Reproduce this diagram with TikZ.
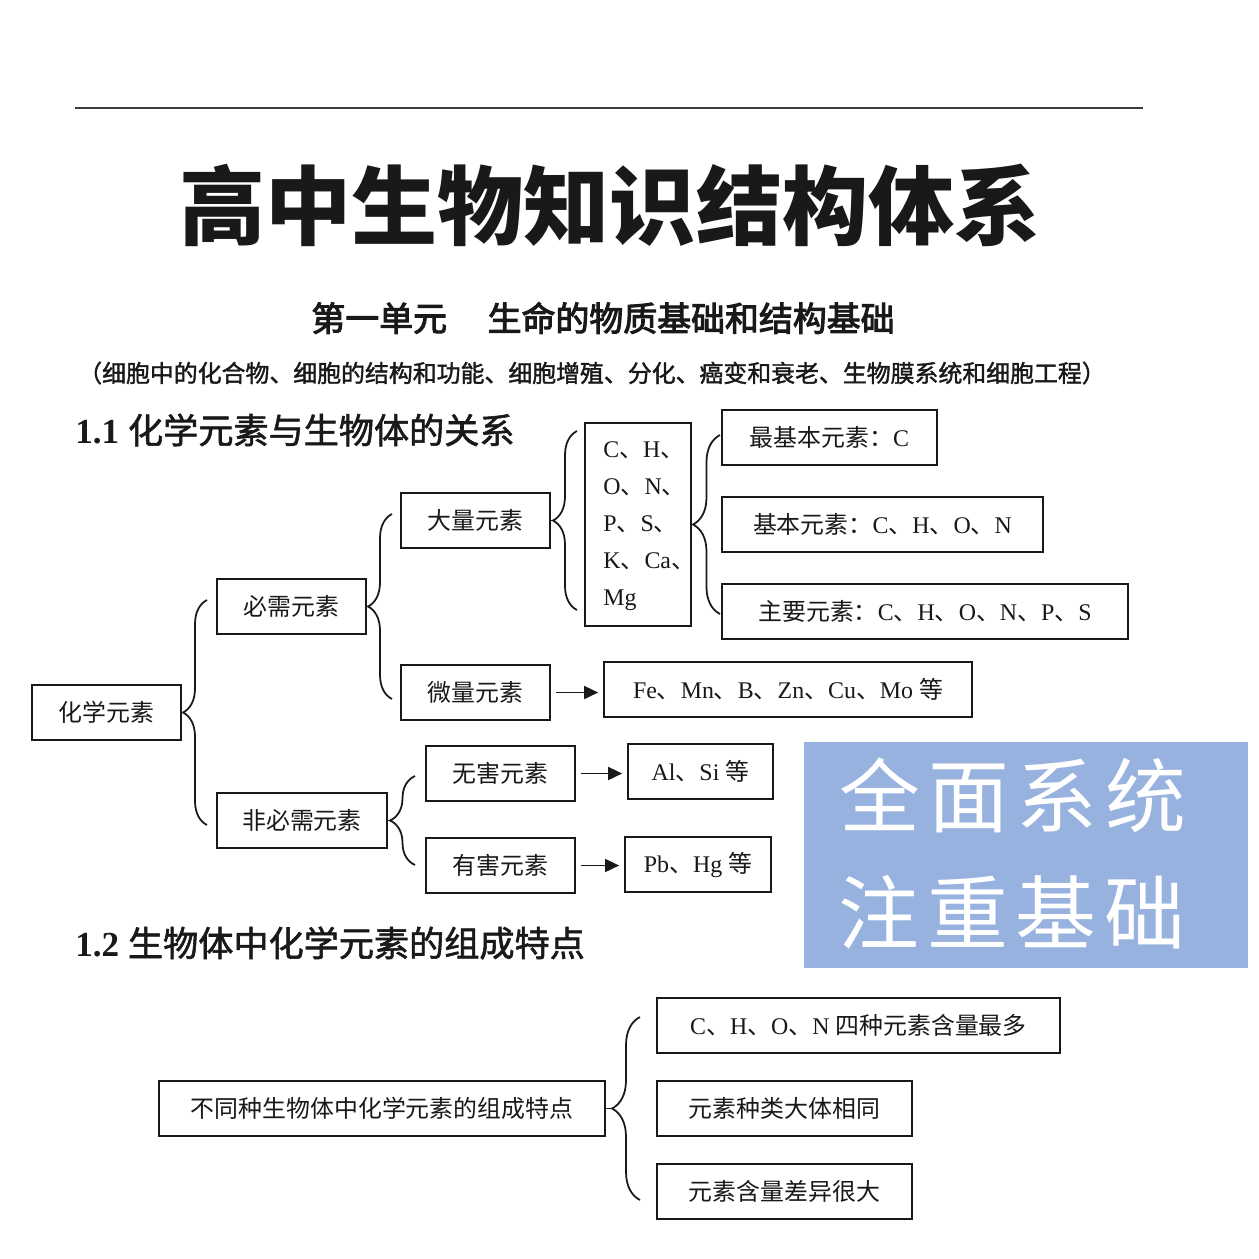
\documentclass[tikz,border=0pt]{standalone}
\usepackage{fontspec}
\setmainfont{Liberation Serif}
\newfontfamily\cj{Noto Sans CJK SC}
\newfontfamily\cjf[FakeBold=3]{Noto Sans CJK SC}
\newfontfamily\cjh[FakeBold=1.6]{Noto Sans CJK SC}
\usetikzlibrary{arrows.meta,decorations.pathreplacing}
\definecolor{wm}{RGB}{152,178,224}
\definecolor{ink}{RGB}{25,25,25}
\definecolor{rulec}{RGB}{60,60,60}
\newcommand\dn{{\cj 、}}
\begin{document}
\begin{tikzpicture}[x=0.02cm,y=-0.02cm,
  bx/.style={draw=ink, line width=1pt, inner sep=0pt, minimum height=1.1cm,
    font=\fontsize{13.6}{16}\selectfont, text=ink},
  brc/.style={decorate, decoration={brace, amplitude=#1}, line width=1pt, draw=ink},
  lnk/.style={line width=1pt, draw=ink},
  arr/.style={-{Triangle[length=0.28cm,width=0.26cm]}, line width=1pt, draw=ink,
    shorten <=0.1cm, shorten >=0.1cm},
  wmtxt/.style={text=white, inner sep=0pt, font=\fontsize{46}{50}\selectfont\cj}
]
\useasboundingbox (0,0) rectangle (1259,1259);
\fill[white] (0,0) rectangle (1259,1259);

% header
\draw[line width=1.4pt, rulec] (75,108) -- (1143,108);
\node[text=ink] (title) at (610,205) {\fontsize{49}{52}\selectfont\cj\bfseries 高中生物知识结构体系};
\node[text=ink] (sub) at (603,318) {\fontsize{19.3}{22}\selectfont\cjf 第一单元\hspace{1.2em}生命的物质基础和结构基础};
\node[text=ink] (par) at (592,373) {\fontsize{13.6}{16}\selectfont\cjh （细胞中的化合物、细胞的结构和功能、细胞增殖、分化、癌变和衰老、生物膜系统和细胞工程）};
\node[anchor=west, inner sep=0pt, text=ink] (h11) at (75,430) {\fontsize{20}{24}\selectfont{\bfseries 1.1} {\cjh 化学元素与生物体的关系}};
\node[anchor=west, inner sep=0pt, text=ink] (h12) at (75,943) {\fontsize{20}{24}\selectfont{\bfseries 1.2} {\cjh 生物体中化学元素的组成特点}};

% section 1.1 boxes
\node[bx, minimum width=2.98cm] (hx) at (106.5,712.5) {\cj 化学元素};
\node[bx, minimum width=2.98cm] (bxn) at (291.5,606.5) {\cj 必需元素};
\node[bx, minimum width=3.40cm] (fb) at (302,820.5) {\cj 非必需元素};
\node[bx, minimum width=2.98cm] (dl) at (475.5,520.5) {\cj 大量元素};
\node[bx, minimum width=2.98cm] (wl) at (475.5,692.5) {\cj 微量元素};
\node[bx, minimum width=2.12cm, minimum height=4.06cm] (ch) at (638,524.5) {};
\node[anchor=west, align=left, inner sep=0pt, text=ink, font=\fontsize{13.6}{21}\selectfont] (chtext) at (603,526) {C\dn H\dn\\O\dn N\dn\\P\dn S\dn\\K\dn Ca\dn\\Mg};
\node[bx, minimum width=4.30cm] (z1) at (829.5,437.5) {{\cj 最基本元素：}C};
\node[bx, minimum width=6.42cm] (z2) at (882.5,524.5) {{\cj 基本元素：}C\dn H\dn O\dn N};
\node[bx, minimum width=8.12cm] (z3) at (925,611.5) {{\cj 主要元素：}C\dn H\dn O\dn N\dn P\dn S};
\node[bx, minimum width=7.36cm] (fe) at (788,689.5) {Fe\dn Mn\dn B\dn Zn\dn Cu\dn Mo {\cj 等}};
\node[bx, minimum width=2.98cm] (wh) at (500.5,773.5) {\cj 无害元素};
\node[bx, minimum width=2.98cm] (yh) at (500.5,865.5) {\cj 有害元素};
\node[bx, minimum width=2.90cm] (al) at (700.5,771.5) {Al\dn Si {\cj 等}};
\node[bx, minimum width=2.92cm] (pb) at (698,864.5) {Pb\dn Hg {\cj 等}};

% braces 1.1
\coordinate (t1) at (183,712.5);
\draw[brc=0.48cm] (207,825) -- (207,600);
\draw[lnk] (hx.east) -- (t1);
\coordinate (t2) at (368,606.5);
\draw[brc=0.48cm] (392,699) -- (392,514);
\draw[lnk] (bxn.east) -- (t2);
\coordinate (t3) at (390,820.5);
\draw[brc=0.5cm] (415,865) -- (415,776);
\draw[lnk] (fb.east) -- (t3);
\coordinate (t4) at (553,520.5);
\draw[brc=0.48cm] (577,610) -- (577,431);
\draw[lnk] (dl.east) -- (t4);
\coordinate (t5) at (693,524.5);
\draw[brc=0.54cm] (720,614) -- (720,435);
\draw[lnk] (ch.east) -- (t5);

% arrows
\draw[arr] (wl.east) -- (wl.east -| fe.west);
\draw[arr] (wh.east) -- (wh.east -| al.west);
\draw[arr] (yh.east) -- (yh.east -| pb.west);

% watermark
\node[fill=wm, minimum width=8.88cm, minimum height=4.52cm, inner sep=0pt] (wmbox) at (1026,855) {};
\node[wmtxt] (wm1) at (1013,795) {全\hspace{0.16cm}面\hspace{0.16cm}系\hspace{0.16cm}统};
\node[wmtxt] (wm2) at (1012,912) {注\hspace{0.16cm}重\hspace{0.16cm}基\hspace{0.16cm}础};

% section 1.2
\node[bx, minimum width=8.92cm] (bt) at (382,1108.5) {\cj 不同种生物体中化学元素的组成特点};
\node[bx, minimum width=8.06cm] (s1) at (858.5,1025.5) {C\dn H\dn O\dn N {\cj 四种元素含量最多}};
\node[bx, minimum width=5.10cm] (s2) at (784.5,1108.5) {\cj 元素种类大体相同};
\node[bx, minimum width=5.10cm] (s3) at (784.5,1191.5) {\cj 元素含量差异很大};
\coordinate (t6) at (612,1108.5);
\draw[brc=0.56cm] (640,1200) -- (640,1017);
\draw[lnk] (bt.east) -- (t6);
\end{tikzpicture}
\end{document}
